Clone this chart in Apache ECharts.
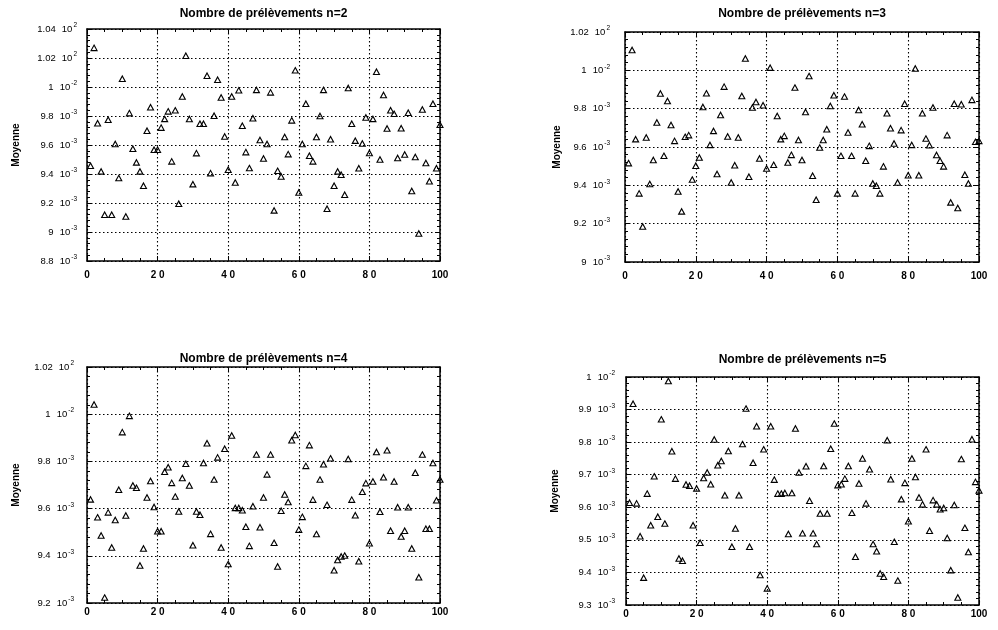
<!DOCTYPE html>
<html><head><meta charset="utf-8">
<script src="https://cdn.jsdelivr.net/npm/echarts@6/dist/echarts.min.js"></script>
<style>html,body{margin:0;padding:0;background:#fff}#c{width:998px;height:630px}</style>
</head><body><div id="c"></div>
<script>
// ---------- DATA ----------
const sampleIdx = [1,2,3,4,5,6,7,8,9,10,11,12,13,14,15,16,17,18,19,20,21,22,23,24,25,26,27,28,29,30,31,32,33,34,35,36,37,38,39,40,41,42,43,44,45,46,47,48,49,50,51,52,53,54,55,56,57,58,59,60,61,62,63,64,65,66,67,68,69,70,71,72,73,74,75,76,77,78,79,80,81,82,83,84,85,86,87,88,89,90,91,92,93,94,95,96,97,98,99,100];

// mean values, in units of 1e-3
const meanN2 = [9.457,10.27,9.75,9.418,9.119,9.774,9.119,9.607,9.372,10.057,9.107,9.82,9.574,9.48,9.418,9.319,9.698,9.86,9.567,9.567,9.72,9.78,9.832,9.487,9.839,9.195,9.935,10.216,9.779,9.33,9.544,9.747,9.747,10.078,9.406,9.802,10.05,9.928,9.659,9.429,9.935,9.342,9.977,9.733,9.551,9.441,9.785,9.98,9.635,9.507,9.607,9.963,9.149,9.422,9.383,9.655,9.537,9.77,10.115,9.273,9.607,9.885,9.526,9.487,9.655,9.8,9.98,9.16,9.64,9.319,9.418,9.395,9.257,9.993,9.747,9.63,9.44,9.61,9.79,9.545,9.78,10.105,9.5,9.945,9.714,9.84,9.815,9.51,9.716,9.535,9.823,9.283,9.517,8.99,9.845,9.476,9.35,9.885,9.44,9.74];
const meanN3 = [9.516,10.106,9.641,9.358,9.185,9.65,9.407,9.532,9.728,9.879,9.554,9.84,9.715,9.632,9.368,9.264,9.653,9.662,9.43,9.502,9.545,9.809,9.88,9.611,9.684,9.459,9.767,9.915,9.655,9.415,9.505,9.65,9.866,10.062,9.445,9.806,9.835,9.54,9.818,9.488,10.014,9.507,9.762,9.641,9.658,9.519,9.559,9.91,9.637,9.532,9.783,9.97,9.45,9.325,9.597,9.637,9.693,9.814,9.87,9.358,9.554,9.863,9.676,9.554,9.358,9.793,9.719,9.528,9.606,9.41,9.398,9.358,9.499,9.776,9.698,9.618,9.415,9.688,9.826,9.453,9.611,10.01,9.453,9.776,9.644,9.609,9.806,9.558,9.528,9.499,9.662,9.311,9.826,9.282,9.823,9.455,9.41,9.846,9.627,9.632];
const meanN4 = [9.639,10.041,9.563,9.486,9.223,9.584,9.435,9.552,9.68,9.924,9.571,9.993,9.698,9.688,9.359,9.431,9.647,9.717,9.607,9.504,9.504,9.756,9.775,9.709,9.651,9.588,9.73,9.79,9.698,9.445,9.588,9.574,9.793,9.877,9.493,9.723,9.817,9.435,9.854,9.365,9.91,9.603,9.603,9.593,9.523,9.442,9.61,9.829,9.521,9.647,9.745,9.829,9.455,9.355,9.591,9.66,9.628,9.89,9.912,9.511,9.565,9.781,9.869,9.638,9.492,9.723,9.788,9.616,9.813,9.339,9.382,9.397,9.401,9.81,9.638,9.572,9.377,9.671,9.708,9.453,9.715,9.84,9.587,9.733,9.847,9.506,9.715,9.606,9.482,9.506,9.606,9.431,9.752,9.309,9.829,9.515,9.515,9.793,9.635,9.723];
const meanN5 = [9.614,9.918,9.612,9.511,9.384,9.642,9.545,9.695,9.571,9.87,9.55,9.988,9.772,9.688,9.443,9.436,9.67,9.666,9.545,9.658,9.491,9.69,9.707,9.671,9.808,9.729,9.742,9.637,9.773,9.479,9.535,9.637,9.794,9.903,9.479,9.737,9.849,9.392,9.778,9.351,9.849,9.685,9.642,9.642,9.644,9.518,9.644,9.842,9.707,9.52,9.726,9.62,9.52,9.487,9.581,9.727,9.581,9.78,9.857,9.668,9.671,9.688,9.727,9.583,9.448,9.673,9.75,9.612,9.717,9.487,9.465,9.397,9.387,9.806,9.686,9.494,9.375,9.625,9.675,9.557,9.75,9.693,9.63,9.609,9.778,9.528,9.622,9.609,9.594,9.598,9.506,9.407,9.607,9.323,9.748,9.537,9.463,9.809,9.678,9.652];

const panelTitles = ['Nombre de prélèvements n=2','Nombre de prélèvements n=3','Nombre de prélèvements n=4','Nombre de prélèvements n=5'];
const yAxisName = 'Moyenne';
const xTickLabels = ['0','2 0','4 0','6 0','8 0','100'];

const yMantN2 = ['8.8','9','9.2','9.4','9.6','9.8','1','1.02','1.04'];
const yExpN2  = ['-3','-3','-3','-3','-3','-3','-2','2','2'];
const yMantN3 = ['9','9.2','9.4','9.6','9.8','1','1.02'];
const yExpN3  = ['-3','-3','-3','-3','-3','-2','2'];
const yMantN4 = ['9.2','9.4','9.6','9.8','1','1.02'];
const yExpN4  = ['-3','-3','-3','-3','-2','2'];
const yMantN5 = ['9.3','9.4','9.5','9.6','9.7','9.8','9.9','1'];
const yExpN5  = ['-3','-3','-3','-3','-3','-3','-3','-2'];

// ---------- LAYOUT ----------
const FONT = "'Liberation Sans', Arial, Helvetica, sans-serif";
const panels = [
  {grid:{left:87,top:29,width:353,height:232}, min:8.8, max:10.4, step:0.2, data:meanN2, mant:yMantN2, exp:yExpN2, ylm:10, xlm:9, gap:66, titleY:8},
  {grid:{left:625,top:32,width:354,height:230}, min:9.0, max:10.2, step:0.2, data:meanN3, mant:yMantN3, exp:yExpN3, ylm:15, xlm:9, gap:63, titleY:8},
  {grid:{left:87,top:367,width:353,height:236}, min:9.2, max:10.2, step:0.2, data:meanN4, mant:yMantN4, exp:yExpN4, ylm:13, xlm:4, gap:66, titleY:353},
  {grid:{left:626,top:377,width:353,height:228}, min:9.3, max:10.0, step:0.1, data:meanN5, mant:yMantN5, exp:yExpN5, ylm:11, xlm:4, gap:66, titleY:354}
];

const black = '#000';
const grids = [], xAxes = [], yAxes = [], series = [], titles = [];
panels.forEach((p, i) => {
  grids.push(Object.assign({containLabel:false}, p.grid));
  titles.push({
    text: panelTitles[i], left: p.grid.left + p.grid.width/2, top: p.titleY,
    textAlign: 'center', padding: 0,
    textStyle: {fontFamily: FONT, fontSize: 12, fontWeight: 'bold', color: black}
  });
  const lineCommon = {show:true, onZero:false, lineStyle:{color:black, width:1.5}};
  const tickCommon = {show:true, inside:true, length:5, lineStyle:{color:black, width:1}};
  const dotted = {show:true, lineStyle:{color:black, width:1.1, type:[1.5,2.5]}};
  xAxes.push({
    type:'value', gridIndex:i, min:0, max:100, interval:20, position:'bottom',
    axisLine: lineCommon, axisTick: tickCommon,
    minorTick:{show:true, splitNumber:4, length:3, lineStyle:{color:black, width:1}},
    axisLabel:{show:true, margin:p.xlm, color:black, fontFamily:FONT, fontSize:10, fontWeight:'bold',
      formatter: v => xTickLabels[Math.round(v/20)]},
    splitLine: dotted
  });
  xAxes.push({
    type:'value', gridIndex:i, min:0, max:100, interval:20, position:'top',
    axisLine: lineCommon, axisTick: tickCommon,
    minorTick:{show:true, splitNumber:4, length:3, lineStyle:{color:black, width:1}},
    axisLabel:{show:false}, splitLine:{show:false}
  });
  yAxes.push({
    type:'value', gridIndex:i, min:p.min, max:p.max, interval:p.step, position:'left',
    name: yAxisName, nameLocation:'middle', nameRotate:90, nameGap:p.gap,
    nameTextStyle:{fontFamily:FONT, fontSize:10, fontWeight:'bold', color:black},
    axisLine: lineCommon, axisTick: tickCommon,
    minorTick:{show:true, splitNumber:5, length:3, lineStyle:{color:black, width:1}},
    axisLabel:{show:true, margin:p.ylm, color:black, fontFamily:FONT,
      formatter: v => { const k = Math.round((v - p.min)/p.step); return '{m|' + p.mant[k] + '}{b|10}{e|' + p.exp[k] + '}'; },
      rich:{
        m:{fontFamily:FONT, fontSize:9.5, color:black, lineHeight:14},
        b:{fontFamily:FONT, fontSize:9.5, color:black, lineHeight:14, padding:[0,0,0,6]},
        e:{fontFamily:FONT, fontSize:6.5, color:black, lineHeight:7, verticalAlign:'top', padding:[0,0,0,1]}
      }},
    splitLine: dotted
  });
  yAxes.push({
    type:'value', gridIndex:i, min:p.min, max:p.max, interval:p.step, position:'right',
    axisLine: lineCommon, axisTick: tickCommon,
    minorTick:{show:true, splitNumber:5, length:3, lineStyle:{color:black, width:1}},
    axisLabel:{show:false}, splitLine:{show:false}
  });
  series.push({
    type:'scatter', xAxisIndex:2*i, yAxisIndex:2*i, clip:false,
    symbol:'triangle', symbolSize:[6,5.5],
    itemStyle:{color:'rgba(255,255,255,0)', borderColor:black, borderWidth:1.1, opacity:1},
    emphasis:{disabled:true},
    data: sampleIdx.map((x, j) => [x, p.data[j]])
  });
});

const chart = echarts.init(document.getElementById('c'), null, {renderer:'canvas'});
chart.setOption({
  animation:false, backgroundColor:'#fff',
  textStyle:{fontFamily:FONT},
  title: titles, grid: grids, xAxis: xAxes, yAxis: yAxes, series: series
});
</script></body></html>
